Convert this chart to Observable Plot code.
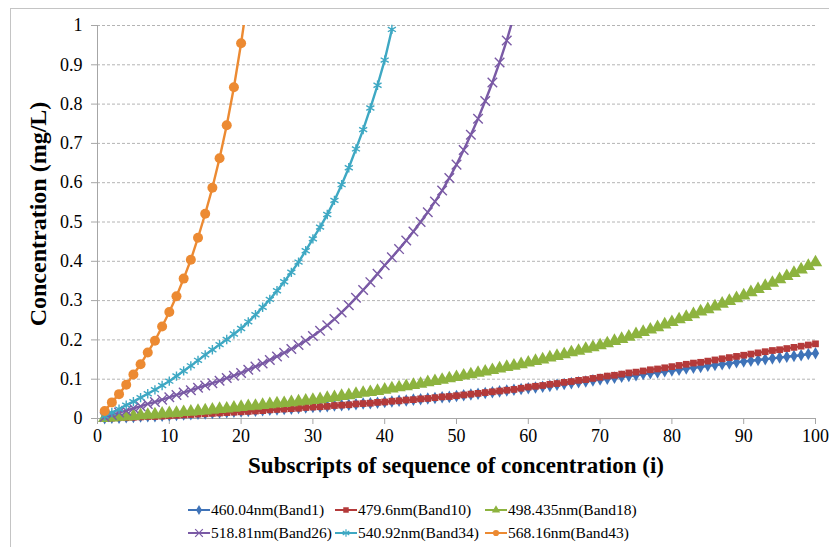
<!DOCTYPE html>
<html>
<head>
<meta charset="utf-8">
<script src="https://cdn.jsdelivr.net/npm/d3@7"></script>
<script src="https://cdn.jsdelivr.net/npm/@observablehq/plot@0.6"></script>
<style>
  html, body { margin: 0; padding: 0; background: #fff; }
  #wrap { position: relative; width: 829px; height: 547px; overflow: hidden; font-family: "Liberation Serif", "Tinos", "Times New Roman", "DejaVu Serif", serif; }
  #frame { position: absolute; left: 10px; top: 8px; width: 840px; height: 560px; border: 1px solid #c4c4c4; }
  #chart { position: absolute; left: 0; top: 0; }
  .title { position: absolute; font-weight: bold; font-size: 23px; color: #000; white-space: nowrap; }
  #ytitle { left: 38px; top: 214px; transform: translate(-50%, -50%) rotate(-90deg); font-size: 24px; }
  #xtitle { left: 456px; top: 466px; transform: translate(-50%, -50%); }
  .leg { position: absolute; display: flex; align-items: center; font-size: 15.5px; color: #000; white-space: nowrap; }
  .leg svg { margin-right: 1px; }
</style>
</head>
<body>
<div id="wrap">
  <div id="frame"></div>
  <div id="chart"></div>
  <div id="ytitle" class="title">Concentration (mg/L)</div>
  <div id="xtitle" class="title">Subscripts of sequence of concentration (i)</div>
</div>
<script>
// ---- data ----
const seriesNames = ["460.04nm(Band1)", "479.6nm(Band10)", "498.435nm(Band18)", "518.81nm(Band26)", "540.92nm(Band34)", "568.16nm(Band43)"];
const seriesColors = ["#3F73B8", "#B43A3A", "#8DB33F", "#7A5AA5", "#3EA8C3", "#EC8A32"];
const seriesSymbols = ["diamond", "square", "triangle", "times", "asterisk", "circle"];

const band1 = [
  0.001, 0.002, 0.002, 0.003, 0.004, 0.005, 0.006, 0.006, 0.007, 0.008,
  0.009, 0.010, 0.011, 0.012, 0.013, 0.014, 0.015, 0.016, 0.017, 0.018,
  0.019, 0.020, 0.021, 0.022, 0.023, 0.024, 0.025, 0.027, 0.028, 0.029,
  0.030, 0.031, 0.033, 0.034, 0.035, 0.036, 0.038, 0.039, 0.040, 0.042,
  0.043, 0.045, 0.046, 0.048, 0.049, 0.051, 0.052, 0.054, 0.055, 0.057,
  0.059, 0.061, 0.063, 0.065, 0.067, 0.069, 0.071, 0.073, 0.075, 0.077,
  0.079, 0.081, 0.083, 0.086, 0.088, 0.090, 0.092, 0.094, 0.097, 0.099,
  0.101, 0.104, 0.106, 0.108, 0.110, 0.113, 0.115, 0.117, 0.120, 0.122,
  0.124, 0.127, 0.129, 0.131, 0.134, 0.136, 0.138, 0.140, 0.143, 0.145,
  0.147, 0.149, 0.151, 0.153, 0.155, 0.157, 0.159, 0.161, 0.164, 0.166
];
const band10 = [
  0.000, 0.001, 0.002, 0.002, 0.003, 0.004, 0.005, 0.005, 0.006, 0.007,
  0.008, 0.009, 0.010, 0.011, 0.012, 0.013, 0.014, 0.015, 0.016, 0.017,
  0.018, 0.019, 0.020, 0.022, 0.023, 0.024, 0.025, 0.026, 0.028, 0.029,
  0.030, 0.031, 0.033, 0.034, 0.035, 0.037, 0.038, 0.039, 0.041, 0.042,
  0.044, 0.045, 0.047, 0.048, 0.050, 0.051, 0.053, 0.055, 0.056, 0.058,
  0.060, 0.062, 0.064, 0.066, 0.068, 0.070, 0.072, 0.074, 0.077, 0.080,
  0.082, 0.084, 0.087, 0.089, 0.092, 0.094, 0.097, 0.099, 0.102, 0.105,
  0.108, 0.110, 0.113, 0.116, 0.118, 0.121, 0.124, 0.126, 0.129, 0.132,
  0.135, 0.138, 0.141, 0.143, 0.146, 0.149, 0.152, 0.155, 0.158, 0.161,
  0.164, 0.167, 0.170, 0.173, 0.175, 0.178, 0.181, 0.184, 0.187, 0.190
];
const band18 = [
  0.001, 0.002, 0.004, 0.005, 0.006, 0.008, 0.009, 0.010, 0.012, 0.013,
  0.014, 0.016, 0.017, 0.019, 0.020, 0.022, 0.024, 0.025, 0.027, 0.029,
  0.031, 0.032, 0.034, 0.036, 0.038, 0.039, 0.041, 0.043, 0.045, 0.047,
  0.049, 0.052, 0.054, 0.057, 0.059, 0.062, 0.065, 0.067, 0.070, 0.073,
  0.076, 0.079, 0.082, 0.085, 0.088, 0.092, 0.095, 0.098, 0.102, 0.105,
  0.109, 0.112, 0.116, 0.119, 0.123, 0.127, 0.131, 0.134, 0.138, 0.142,
  0.146, 0.150, 0.155, 0.159, 0.163, 0.168, 0.172, 0.177, 0.181, 0.186,
  0.191, 0.197, 0.202, 0.208, 0.214, 0.220, 0.226, 0.232, 0.239, 0.245,
  0.252, 0.258, 0.265, 0.272, 0.278, 0.285, 0.292, 0.299, 0.306, 0.313,
  0.321, 0.329, 0.337, 0.345, 0.354, 0.362, 0.370, 0.379, 0.388, 0.397
];
const band26 = [
  0.004, 0.009, 0.015, 0.020, 0.026, 0.031, 0.037, 0.042, 0.048, 0.054,
  0.060, 0.066, 0.072, 0.078, 0.084, 0.090, 0.096, 0.103, 0.109, 0.116,
  0.124, 0.132, 0.140, 0.149, 0.158, 0.167, 0.177, 0.187, 0.198, 0.210,
  0.223, 0.237, 0.253, 0.270, 0.288, 0.307, 0.327, 0.347, 0.368, 0.390,
  0.410, 0.431, 0.453, 0.476, 0.500, 0.525, 0.552, 0.580, 0.612, 0.646,
  0.683, 0.722, 0.763, 0.808, 0.855, 0.906, 0.962, 1.025
];
const band34 = [
  0.006, 0.015, 0.024, 0.034, 0.043, 0.053, 0.063, 0.073, 0.084, 0.095,
  0.108, 0.121, 0.134, 0.148, 0.162, 0.175, 0.188, 0.201, 0.215, 0.229,
  0.246, 0.264, 0.283, 0.303, 0.325, 0.348, 0.372, 0.398, 0.427, 0.457,
  0.487, 0.519, 0.555, 0.595, 0.638, 0.686, 0.735, 0.790, 0.848, 0.912,
  0.990
];
const band43 = [
  0.019, 0.041, 0.062, 0.086, 0.112, 0.138, 0.168, 0.198, 0.234, 0.271,
  0.311, 0.356, 0.404, 0.460, 0.521, 0.587, 0.662, 0.746, 0.843, 0.955,
  1.080
];
const seriesValues = [band1, band10, band18, band26, band34, band43];

const xTicks = [0, 10, 20, 30, 40, 50, 60, 70, 80, 90, 100];
const yTicks = [0, 0.1, 0.2, 0.3, 0.4, 0.5, 0.6, 0.7, 0.8, 0.9, 1];

const FONT = "'Liberation Serif', 'Tinos', 'Times New Roman', 'DejaVu Serif', serif";

// ---- build rows ----
const rows = [];
seriesValues.forEach((vals, s) => vals.forEach((v, k) => rows.push({s, i: k + 1, v})));

const seriesMarks = [];
seriesNames.forEach((name, s) => {
  const data = rows.filter(r => r.s === s);
  const color = seriesColors[s];
  const sym = seriesSymbols[s];
  seriesMarks.push(Plot.line(data, {x: "i", y: "v", stroke: color, strokeWidth: 2.4, clip: true}));
  const hollow = sym === "times" || sym === "asterisk";
  const r = {diamond: 3.8, square: 3.8, triangle: 5, times: 4.4, asterisk: 4.4, circle: 5}[sym];
  seriesMarks.push(Plot.dot(data.filter(d => d.v <= 1.0), hollow
    ? {x: "i", y: "v", symbol: () => sym, r, stroke: color, strokeWidth: 1.4, fill: "none"}
    : {x: "i", y: "v", symbol: () => sym, r, fill: color, stroke: "none"}));
});

const chart = Plot.plot({
  width: 829,
  height: 480,
  marginLeft: 97,
  marginRight: 14,
  marginTop: 25,
  marginBottom: 62,
  x: {domain: [0, 100]},
  y: {domain: [0, 1]},
  symbol: {type: "identity"},
  style: {fontFamily: FONT, fontSize: "18px", color: "#000", background: "transparent"},
  marks: [
    Plot.ruleY(yTicks.filter(d => d > 0), {stroke: "#b4b4b4", strokeDasharray: "3,2"}),
    Plot.ruleX([0], {stroke: "#a6a6a6"}),
    Plot.ruleY([0], {stroke: "#a6a6a6"}),
    Plot.axisY({ticks: yTicks, tickSize: 6, tickPadding: 9, stroke: "#a6a6a6", label: null, tickFormat: d => String(d), fontFamily: FONT}),
    Plot.axisX({ticks: xTicks, tickSize: 6, tickPadding: 5, stroke: "#a6a6a6", label: null, tickFormat: d => String(d), fontFamily: FONT}),
    ...seriesMarks
  ]
});
document.getElementById("chart").appendChild(chart);

// ---- legend ----
const wrap = document.getElementById("wrap");
const legPos = [[188, 510], [335, 510], [485, 510], [188, 533], [335, 533], [485, 533]];
seriesNames.forEach((name, s) => {
  const div = document.createElement("div");
  div.className = "leg";
  div.style.left = legPos[s][0] + "px";
  div.style.top = (legPos[s][1] - 10) + "px";
  div.style.height = "20px";
  const svg = d3.create("svg").attr("width", 22).attr("height", 12);
  svg.append("line").attr("x1", 0).attr("x2", 22).attr("y1", 6).attr("y2", 6)
    .attr("stroke", seriesColors[s]).attr("stroke-width", 2);
  const symMap = {diamond: d3.symbolDiamond, square: d3.symbolSquare, triangle: d3.symbolTriangle,
                  times: d3.symbolTimes, asterisk: d3.symbolAsterisk, circle: d3.symbolCircle};
  const sym = seriesSymbols[s];
  const hollow = sym === "times" || sym === "asterisk";
  svg.append("path").attr("transform", "translate(11,6)")
    .attr("d", d3.symbol(symMap[sym], hollow ? 40 : 30)())
    .attr("fill", hollow ? "none" : seriesColors[s])
    .attr("stroke", hollow ? seriesColors[s] : "none").attr("stroke-width", 1.2);
  div.appendChild(svg.node());
  const span = document.createElement("span");
  span.textContent = name;
  div.appendChild(span);
  wrap.appendChild(div);
});
</script>
</body>
</html>
